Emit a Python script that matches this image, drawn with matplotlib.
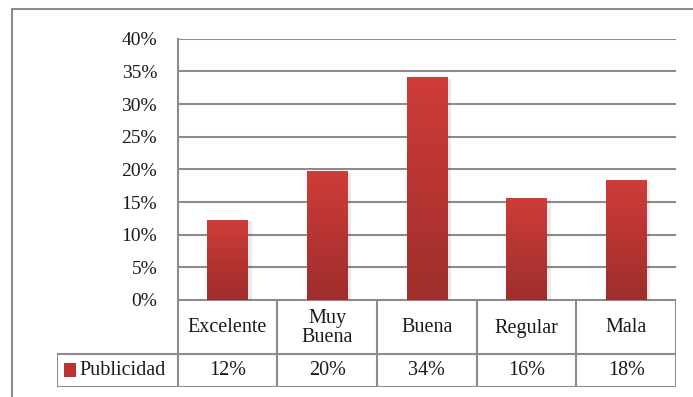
import matplotlib
matplotlib.use('Agg')
import matplotlib.pyplot as plt
import matplotlib.ticker as ticker
from matplotlib.colors import LinearSegmentedColormap
import numpy as np

plt.rcParams['font.family'] = 'serif'
plt.rcParams['font.serif'] = ['Liberation Serif', 'Times New Roman', 'DejaVu Serif']

# ── 数据 ──
categories = ['Excelente', 'Muy\nBuena', 'Buena', 'Regular', 'Mala']
values = [0.123, 0.197, 0.341, 0.156, 0.183]
table_labels = ['12%', '20%', '34%', '16%', '18%']
series_name = 'Publicidad'

W, H = 693, 397
fig = plt.figure(figsize=(W / 100, H / 100), dpi=100)
fig.patch.set_facecolor('white')

def px_box(x0, y0, x1, y1):
    # 像素坐标 (左上原点) -> figure 比例
    return [x0 / W, 1 - y1 / H, (x1 - x0) / W, (y1 - y0) / H]

grid_c = '#8c8c8c'
fs_tick = 14
fs_tab = 14.5

# ── 外框 ──
fig.add_artist(plt.Line2D([12 / W, 12 / W], [0, 1 - 9 / H], transform=fig.transFigure,
                          color=grid_c, lw=1.5))
fig.add_artist(plt.Line2D([12 / W, 1], [1 - 9 / H, 1 - 9 / H], transform=fig.transFigure,
                          color=grid_c, lw=1.5))

# ── 柱状图 ──
ax = fig.add_axes(px_box(178, 38.7, 676, 300))
x = np.arange(len(categories))
cmap = LinearSegmentedColormap.from_list('bar', ['#9e2e2c', '#cf3c39'])
bw = 0.41
bars = ax.bar(x, values, bw, color='none', zorder=3)
grad = np.linspace(0, 1, 256).reshape(-1, 1)
for b in bars:
    x0, w, h = b.get_x(), b.get_width(), b.get_height()
    # 阴影
    ax.add_patch(plt.Rectangle((x0 + 0.015, 0), w + 0.02, h - 0.002, color='#000000',
                               alpha=0.08, zorder=2, lw=0))
    im = ax.imshow(grad, cmap=cmap, origin='lower', aspect='auto',
                   extent=(x0, x0 + w, 0, h), zorder=3)
    im.set_clip_path(b)

ax.set_xlim(-0.5, len(categories) - 0.5)
ax.set_ylim(0, 0.40)
ax.set_yticks(np.arange(0, 0.401, 0.05))
ax.yaxis.set_major_formatter(ticker.FuncFormatter(lambda v, p: f'{v * 100:.0f}%'))
ax.set_xticks([])
ax.tick_params(axis='y', length=0, pad=15, labelsize=fs_tick, labelcolor='#1a1a1a')
ax.grid(True, axis='y', color=grid_c, lw=1.5, zorder=0)
for s in ['top', 'right', 'bottom']:
    ax.spines[s].set_visible(False)
ax.spines['left'].set_color(grid_c)
ax.spines['left'].set_linewidth(1.5)

# ── 数据表 ──
legend_w = 1.21
tax = fig.add_axes(px_box(57, 300, 676, 387))
tax.set_xlim(-0.5 - legend_w, len(categories) - 0.5)
tax.set_ylim(0, 87)
tax.axis('off')
lk = dict(color=grid_c, lw=1.5, solid_capstyle='projecting')
tax.plot([-0.5, len(categories) - 0.5], [87, 87], **lk)
for yy in [33, 0]:
    tax.plot([-0.5 - legend_w, len(categories) - 0.5], [yy, yy], **lk)
for xx in np.arange(-0.5, len(categories), 1.0):
    tax.plot([xx, xx], [0, 87], **lk)
tax.plot([-0.5 - legend_w, -0.5 - legend_w], [0, 33], **lk)

for i, (c, t) in enumerate(zip(categories, table_labels)):
    tax.text(i, 59, c, ha='center', va='center', fontsize=fs_tab, linespacing=1.0,
             color='#1a1a1a')
    tax.text(i, 16.5, t, ha='center', va='center', fontsize=fs_tab, color='#1a1a1a')

# 图例色块
lx = -0.5 - legend_w + 0.07
tax.add_patch(plt.Rectangle((lx, 10), 0.12, 14, color='#b83533', lw=0))
tax.text(lx + 0.155, 16.5, series_name, ha='left', va='center', fontsize=fs_tab,
         color='#1a1a1a')

fig.savefig('out.png', dpi=100, facecolor='white')
